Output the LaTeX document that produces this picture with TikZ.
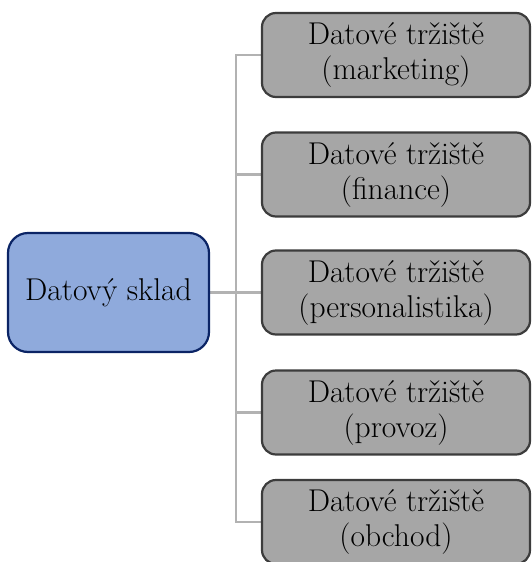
\documentclass[tikz,border=0pt]{standalone}
\usetikzlibrary{backgrounds}
\definecolor{whfill}{HTML}{8FAADC}
\definecolor{whline}{HTML}{0B2465}
\definecolor{martfill}{HTML}{A6A6A6}
\definecolor{martline}{HTML}{3C3C3C}
\definecolor{linkgray}{HTML}{B2B2B2}
\tikzset{
  warehouse/.style={draw=whline, fill=whfill, line width=2.2pt, rounded corners=20pt,
    minimum width=201pt, minimum height=119pt, align=center, inner sep=0pt},
  mart/.style={draw=martline, fill=martfill, line width=2.2pt, rounded corners=14pt,
    minimum width=268pt, minimum height=84pt, align=center, inner sep=0pt},
  conn/.style={draw=linkgray, line width=2.4pt},
}
\begin{document}
\begin{tikzpicture}[x=1pt, y=-1pt, font=\fontsize{31.5}{35}\selectfont]
\useasboundingbox (0,0) rectangle (531,562);
\coordinate (bus) at (236,0);
% boxes
\node[warehouse] (dw) at (108.5,292.5) {Datový sklad};
\node[mart] (m1) at (396,55)    {Datové tržiště\\(marketing)};
\node[mart] (m2) at (396,174.5) {Datové tržiště\\(finance)};
\node[mart] (m3) at (396,292.5) {Datové tržiště\\(personalistika)};
\node[mart] (m4) at (396,412.5) {Datové tržiště\\(provoz)};
\node[mart] (m5) at (396,522)   {Datové tržiště\\(obchod)};
% connectors behind the boxes
\begin{scope}[on background layer]
\draw[conn] (m1.west) -- (m1.west -| bus) -- (m5.west -| bus) -- (m5.west);
\draw[conn] (dw.east) -- (m3.west);
\draw[conn] (m2.west) -- (m2.west -| bus);
\draw[conn] (m4.west) -- (m4.west -| bus);
\end{scope}
\end{tikzpicture}
\end{document}
